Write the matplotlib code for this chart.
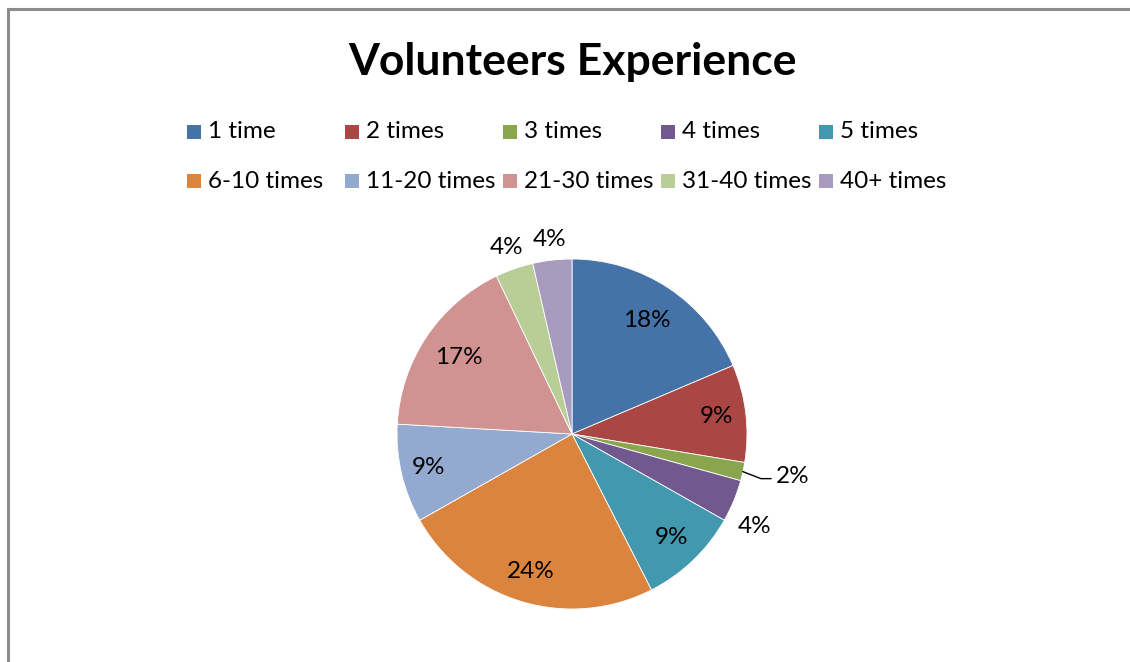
import matplotlib
matplotlib.use("Agg")
import matplotlib.pyplot as plt
import numpy as np

categories = ["1 time", "2 times", "3 times", "4 times", "5 times",
              "6-10 times", "11-20 times", "21-30 times", "31-40 times", "40+ times"]
values = [18.6, 9.0, 1.7, 3.9, 9.3, 24.3, 9.1, 17.0, 3.5, 3.6]
pct_labels = ["18%", "9%", "2%", "4%", "9%", "24%", "9%", "17%", "4%", "4%"]
colors = ["#4572A7", "#AA4643", "#89A54E", "#71588F", "#4198AF",
          "#DB843D", "#93A9CF", "#D19392", "#B9CD96", "#A99BBD"]
title = "Volunteers Experience"

FONT = "Lato"
FS = 17.5
W, H = 1130, 662
fig = plt.figure(figsize=(W / 100, H / 100), dpi=100)
ax = fig.add_axes([0, 0, 1, 1])

cx, cy, R = 572, H - 434, 175
wedges, _ = ax.pie(values, colors=colors, startangle=90, counterclock=False,
                   center=(cx, cy), radius=R,
                   wedgeprops=dict(edgecolor="white", linewidth=0.6))
ax.set_xlim(0, W)
ax.set_ylim(0, H)
ax.set_aspect("equal")
ax.axis("off")

# label radii (fraction of R) and angular nudges (degrees)
rfac = [0.78, 0.83, None, 1.17, 0.82, 0.82, 0.84, 0.78, 1.13, 1.12]
dang = [0, 0, 0, -4.5, 0, 0, 0, 0, 0, 0]
for i, w in enumerate(wedges):
    ang = np.deg2rad((w.theta1 + w.theta2) / 2 + dang[i])
    if rfac[i] is None:
        x0, y0 = cx + R * np.cos(ang), cy + R * np.sin(ang)
        ax.plot([x0, x0 + 18, x0 + 28], [y0, y0 - 7, y0 - 7], color="black", lw=1)
        ax.text(x0 + 33, y0 - 5, pct_labels[i], ha="left", va="center",
                fontsize=FS, family=FONT)
        continue
    x = cx + rfac[i] * R * np.cos(ang)
    y = cy + rfac[i] * R * np.sin(ang)
    ax.text(x, y, pct_labels[i], ha="center", va="center", fontsize=FS, family=FONT)

# legend, laid out in Excel's fixed-width grid (row-major)
ncol = 5
for i, (lab, col) in enumerate(zip(categories, colors)):
    r, c = divmod(i, ncol)
    x = 187 + 158 * c
    y = H - (132 + 49 * r)
    ax.add_patch(plt.Rectangle((x, y - 7), 14, 14, facecolor=col, edgecolor="none"))
    ax.text(x + 21, y, lab, ha="left", va="center", fontsize=FS, family=FONT)

fig.text(572 / W, 1 - 62 / H, title, ha="center", va="center", fontsize=32,
         fontweight="bold", family=FONT)

# chart border (only left and top visible)
border = plt.Rectangle((7.5 / W, -0.1), 1.2, 1 - 8.5 / H + 0.1, transform=fig.transFigure,
                       fill=False, edgecolor="#8C8C8C", linewidth=2.2)
fig.add_artist(border)

fig.savefig("out.png", dpi=100, facecolor="white")
